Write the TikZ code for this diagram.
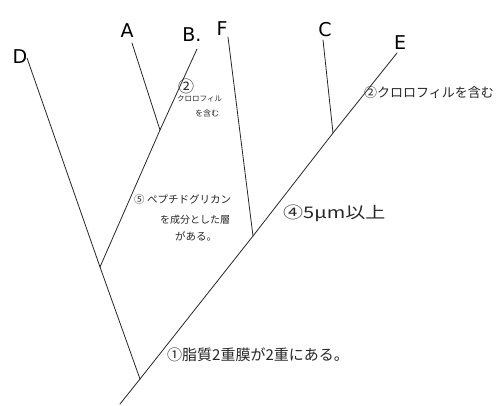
\documentclass[tikz,border=0pt]{standalone}
\usepackage{fontspec}
\setmainfont{Noto Sans CJK JP}
\newfontfamily\latinfont{DejaVu Sans}
\tikzset{
  branch/.style={draw=black!85, line width=0.8pt, line cap=round},
  taxon/.style={inner sep=0pt, font=\latinfont\fontsize{19}{19}\selectfont},
  note/.style={inner sep=0pt, anchor=west, text=black!85},
}
\begin{document}
\begin{tikzpicture}[x=1pt,y=-1pt]
\useasboundingbox (0,0) rectangle (496,405);
% taxon labels
\node[taxon] (D) at (20,57) {D};
\node[taxon] (A) at (127,31) {A};
\node[taxon] (B) at (192,35) {B.};
\node[taxon] (F) at (222,29) {F};
\node[taxon] (C) at (325,30) {C};
\node[taxon] (E) at (400,43) {E};
% branch ends and junctions
\coordinate (tD) at (27,58);
\coordinate (tA) at (132,43);
\coordinate (tB) at (197,49);
\coordinate (tF) at (228,37);
\coordinate (tC) at (323,40);
\coordinate (tE) at (397,53);
\coordinate (bot) at (120,404);
\coordinate (root) at (140,379);
\coordinate (jDAB) at (100,267);
\coordinate (jAB) at (160,130);
\coordinate (jF) at (253,236);
\coordinate (jC) at (333,133);
% branches
\draw[branch] (bot) -- (root) -- (jF) -- (jC) -- (tE);
\draw[branch] (tD) -- (jDAB) -- (root);
\draw[branch] (jDAB) -- (jAB) -- (tB);
\draw[branch] (tA) -- (jAB);
\draw[branch] (tF) -- (jF);
\draw[branch] (tC) -- (jC);
% notes
\node[note] (n2a) at (178,86) {\fontsize{16}{16}\selectfont ②};
\node[note] (n2b) at (177,99) {\fontsize{7.5}{8}\selectfont クロロフィル};
\node[note] (n2c) at (195,113) {\fontsize{8}{8}\selectfont を含む};
\node[note] (n2r) at (364,93) {\fontsize{13}{13}\selectfont ②クロロフィルを含む};
\node[note] (n5a) at (134,200) {\fontsize{10.5}{11}\selectfont ⑤ ペプチドグリカン};
\node[note] (n5b) at (160,220) {\fontsize{10}{10}\selectfont を成分とした層};
\node[note] (n5c) at (175,236) {\fontsize{10.5}{11}\selectfont がある。};
\node[note] (n4) at (283,213) {\scalebox{1.25}[1]{\fontsize{16}{16}\selectfont ④5μm以上}};
\node[note] (n1) at (167,355) {\fontsize{15}{15}\selectfont ①脂質2重膜が2重にある。};
\end{tikzpicture}
\end{document}
